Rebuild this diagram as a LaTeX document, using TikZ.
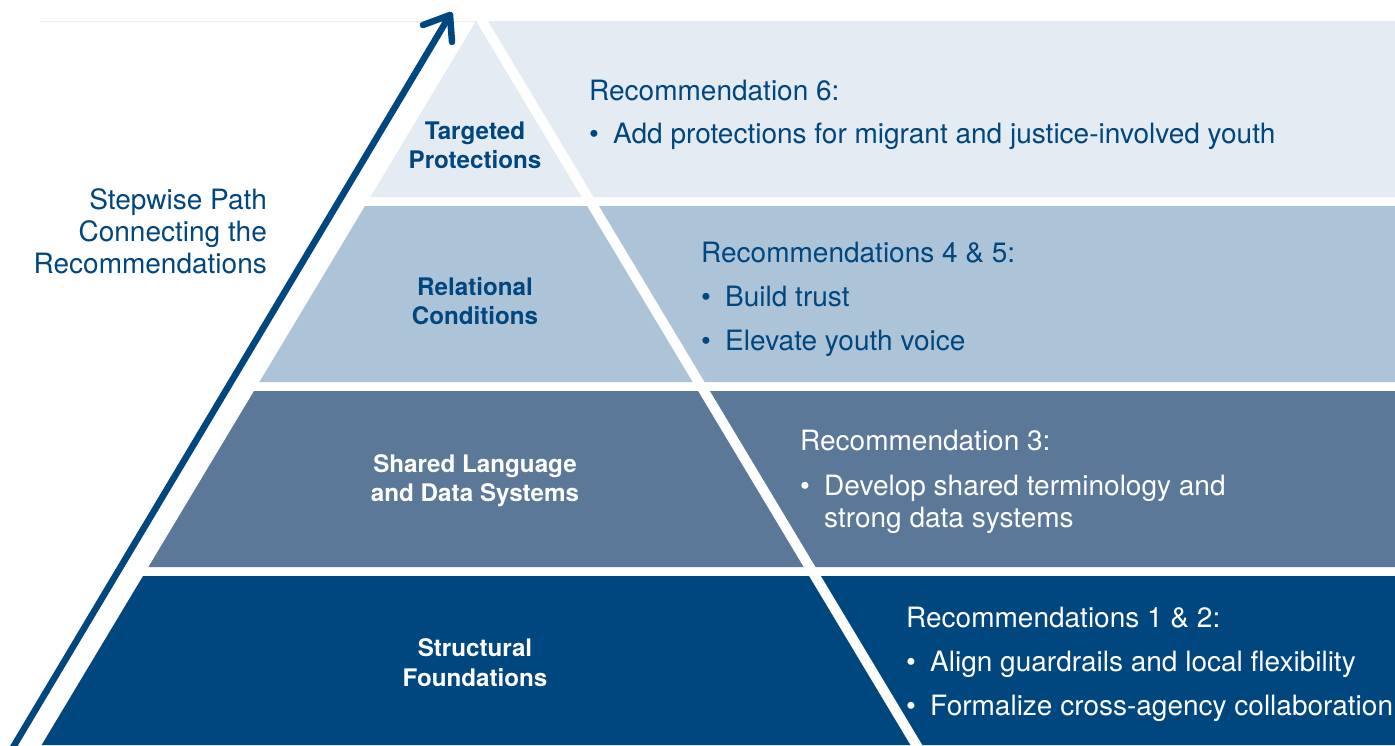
\documentclass[tikz,border=0pt]{standalone}
\usepackage{fontspec}
\setmainfont{TeX Gyre Heros}
\definecolor{bandA}{HTML}{E4EBF2}
\definecolor{bandB}{HTML}{ADC4D8}
\definecolor{bandC}{HTML}{5C7899}
\definecolor{bandD}{HTML}{00467F}
\definecolor{navy}{HTML}{00467F}
\begin{document}
\begin{tikzpicture}[x=1pt,y=-1pt,
  lbl/.style={font=\fontsize{24.2}{29}\selectfont\bfseries, anchor=base, inner sep=0},
  rec/.style={font=\fontsize{28}{32}\selectfont, anchor=base west, inner sep=0},
  side/.style={font=\fontsize{28}{32}\selectfont, anchor=base east, inner sep=0, text=navy},
  gapline/.style={draw=white, line width=10pt},
  pathline/.style={draw=navy, line width=6.5pt, line cap=round, line join=round},
]
\newcommand{\bul}{\makebox[24pt][l]{•}}
\useasboundingbox (0,0) rectangle (1395,745);
\fill[white] (0,0) rectangle (1395,745);
% faint top rule
\coordinate (r1) at (40,21);
\coordinate (r2) at (476,21);
\draw[black!7, line width=1pt] (r1) -- (r2);
% bands
\fill[bandA] (476,21) -- (1395,21) -- (1395,197) -- (370.4,197) -- cycle;
\fill[bandB] (365,206) -- (1395,206) -- (1395,382) -- (259.4,382) -- cycle;
\fill[bandC] (254,391) -- (1395,391) -- (1395,567) -- (148.4,567) -- cycle;
\fill[bandD] (143,576) -- (1395,576) -- (1395,745) -- (41.6,745) -- cycle;
% white diagonal
\coordinate (w1) at (479,16);
\coordinate (w2) at (919.4,750);
\draw[gapline] (w1) -- (w2);
% arrow
\coordinate (abot) at (12,749);
\coordinate (atip) at (450,15);
\coordinate (barbL) at (423,25);
\coordinate (barbR) at (452,42);
\draw[pathline] (abot) -- (atip);
\draw[pathline] (barbL) -- (atip) -- (barbR);
% side text
\node[side] (s1) at (267,209) {Stepwise Path};
\node[side] (s2) at (267,241) {Connecting the};
\node[side] (s3) at (267,273) {Recommendations};
% pyramid labels
\node[lbl, text=navy] (l1a) at (475,139) {Targeted};
\node[lbl, text=navy] (l1b) at (475,168) {Protections};
\node[lbl, text=navy] (l2a) at (475,295) {Relational};
\node[lbl, text=navy] (l2b) at (475,324) {Conditions};
\node[lbl, text=white] (l3a) at (475,472) {Shared Language};
\node[lbl, text=white] (l3b) at (475,501) {and Data Systems};
\node[lbl, text=white] (l4a) at (475,656) {Structural};
\node[lbl, text=white] (l4b) at (475,686) {Foundations};
% recommendations
\node[rec, text=navy] (r6h) at (589,100) {Recommendation 6:};
\node[rec, text=navy] (r6a) at (589,143) {\bul Add protections for migrant and justice-involved youth};
\node[rec, text=navy] (r45h) at (701,262) {Recommendations 4 \& 5:};
\node[rec, text=navy] (r45a) at (701,306) {\bul Build trust};
\node[rec, text=navy] (r45b) at (701,350) {\bul Elevate youth voice};
\node[rec, text=white] (r3h) at (800,450) {Recommendation 3:};
\node[rec, text=white] (r3a) at (800,495) {\bul Develop shared terminology and};
\node[rec, text=white] (r3b) at (824,527) {strong data systems};
\node[rec, text=white] (r12h) at (906,627) {Recommendations 1 \& 2:};
\node[rec, text=white] (r12a) at (906,671) {\bul Align guardrails and local flexibility};
\node[rec, text=white] (r12b) at (906,715) {\bul Formalize cross-agency collaboration};
\end{tikzpicture}
\end{document}
